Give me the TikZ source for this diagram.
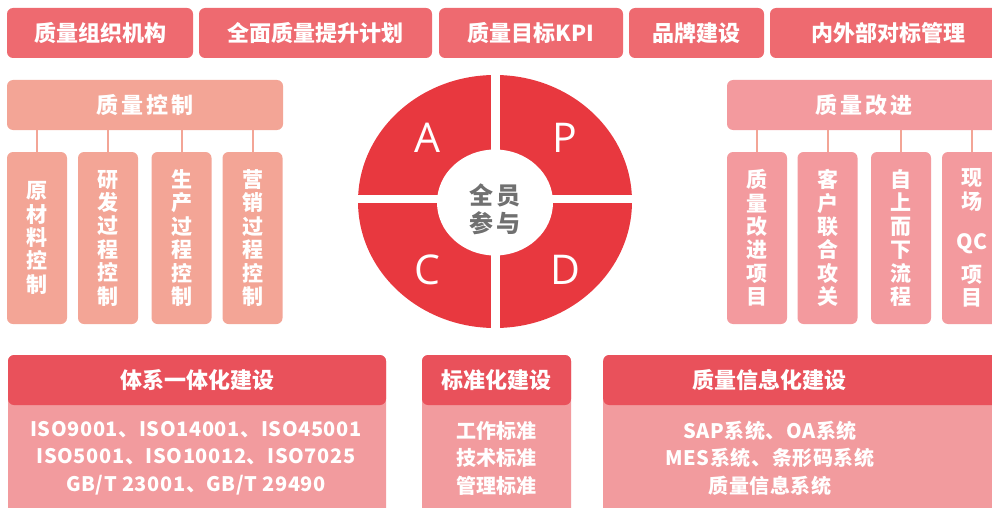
\documentclass[tikz,border=0pt]{standalone}
\usepackage{fontspec}
\setmainfont{Noto Sans CJK SC}
\newfontfamily\latinfont{Open Sans}
\newfontfamily\spacedfont{Noto Sans CJK SC}[LetterSpace=3]
\definecolor{topred}{HTML}{EE6A70}
\definecolor{ctrlsalmon}{HTML}{F3A596}
\definecolor{imppink}{HTML}{F39A9E}
\definecolor{pdcared}{HTML}{E8383F}
\definecolor{headred}{HTML}{E9515B}
\definecolor{bodypink}{HTML}{F29B9E}
\definecolor{centergrey}{HTML}{707070}
\tikzset{
  topbox/.style={fill=topred, rounded corners=6pt, text=white, inner sep=0pt,
    minimum height=50, font=\fontsize{22}{26}\selectfont\bfseries},
  ctrlbox/.style={fill=ctrlsalmon, rounded corners=6pt, text=white, inner sep=0pt,
    minimum height=50, font=\fontsize{22}{26}\selectfont\bfseries},
  impbox/.style={fill=imppink, rounded corners=6pt, text=white, inner sep=0pt,
    minimum height=50, font=\fontsize{22}{26}\selectfont\bfseries},
  subbox/.style={rounded corners=6pt, text=white, inner sep=0pt,
    minimum width=60, minimum height=172, align=center,
    font=\fontsize{21}{23.4}\selectfont\bfseries},
  link/.style={draw=ctrlsalmon, line width=2pt},
  headbox/.style={fill=headred, rounded corners=6pt, inner sep=0pt, minimum height=50},
  bodybox/.style={fill=bodypink, rounded corners=6pt, inner sep=0pt},
  headtext/.style={text=white, font=\fontsize{22}{26}\selectfont\bfseries},
  bodytext/.style={text=white, align=center, font=\fontsize{20}{27.5}\selectfont\bfseries},
  isotext/.style={text=white, align=center, font=\fontsize{20}{27.5}\spacedfont\bfseries},
  pdcaletter/.style={text=white, font=\fontsize{41}{44}\latinfont},
}
\begin{document}
\begin{tikzpicture}[x=1pt,y=-1pt]
\useasboundingbox (0,0) rectangle (992,508);
\clip (0,0) rectangle (992,508);

% top row
\node[topbox, minimum width=186] (t1) at (100,33) {质量组织机构};
\node[topbox, minimum width=233] (t2) at (315.5,33) {全面质量提升计划};
\node[topbox, minimum width=184] (t3) at (531,33) {质量目标KPI};
\node[topbox, minimum width=135] (t4) at (696.5,33) {品牌建设};
\node[topbox, minimum width=236] (t5) at (888,33) {内外部对标管理};

% quality control
\node[ctrlbox, minimum width=276] (qc) at (145,105) {质\hspace{3pt}量\hspace{3pt}控\hspace{3pt}制};
\node[subbox, fill=ctrlsalmon] (c1) at (37,238) {原\\材\\料\\控\\制};
\node[subbox, fill=ctrlsalmon] (c2) at (108,238) {研\\发\\过\\程\\控\\制};
\node[subbox, fill=ctrlsalmon] (c3) at (181.5,238) {生\\产\\过\\程\\控\\制};
\node[subbox, fill=ctrlsalmon] (c4) at (252.5,238) {营\\销\\过\\程\\控\\制};
\foreach \s in {c1,c2,c3,c4} \draw[link] (qc.south -| \s.north) -- (\s.north);

% quality improvement
\node[impbox, minimum width=274] (qi) at (864,105) {质\hspace{3pt}量\hspace{3pt}改\hspace{3pt}进};
\node[subbox, fill=imppink] (i1) at (757,238) {质\\量\\改\\进\\项\\目};
\node[subbox, fill=imppink] (i2) at (827.5,238) {客\\户\\联\\合\\攻\\关};
\node[subbox, fill=imppink] (i3) at (901,238) {自\\上\\而\\下\\流\\程};
\node[subbox, fill=imppink] (i4) at (972,238) {现\\场\\[17pt]QC\\[9pt]项\\目};
\foreach \s in {i1,i2,i3,i4} \draw[link] (qi.south -| \s.north) -- (\s.north);

% PDCA circle
\fill[pdcared] (495,201.5) ellipse [x radius=137, y radius=126.5];
\fill[white] (491,70) rectangle (499.5,335);
\fill[white] (350,195) rectangle (640,203);
\fill[white] (495,202.5) ellipse [x radius=58, y radius=53];
\node[pdcaletter] (la) at (427,138) {A};
\node[pdcaletter] (lp) at (565,138) {P};
\node[pdcaletter] (lc) at (427,270) {C};
\node[pdcaletter] (ld) at (565,270) {D};
\node[text=centergrey, align=center, font=\fontsize{24}{28}\selectfont\bfseries] (ctr) at (495,209) {全\hspace{3pt}员\\参\hspace{3pt}与};

% bottom: system integration
\node[bodybox, minimum width=378, minimum height=170, anchor=north] (ba) at (197,355) {};
\node[headbox, minimum width=378] (ha) at (197,380) {};
\node[headtext] (hat) at (ha.center) {体系一体化建设};
\node[isotext] (bat) at (196,458) {ISO9001、ISO14001、ISO45001\\ISO5001、ISO10012、ISO7025\\GB/T 23001、GB/T 29490};

% bottom: standardisation
\node[bodybox, minimum width=149, minimum height=170, anchor=north] (bb) at (496.5,355) {};
\node[headbox, minimum width=149] (hb) at (496.5,380) {};
\node[headtext] (hbt) at (hb.center) {标准化建设};
\node[bodytext] (bbt) at (496.5,458) {工作标准\\技术标准\\管理标准};

% bottom: informatisation
\node[bodybox, minimum width=420, minimum height=170, anchor=north west] (bc) at (603,355) {};
\node[headbox, minimum width=420, anchor=west] (hc) at (603,380) {};
\node[headtext] (hct) at (769,380) {质量信息化建设};
\node[isotext] (bct) at (770,458) {SAP系统、OA系统\\MES系统、条形码系统\\质量信息系统};
\end{tikzpicture}
\end{document}
